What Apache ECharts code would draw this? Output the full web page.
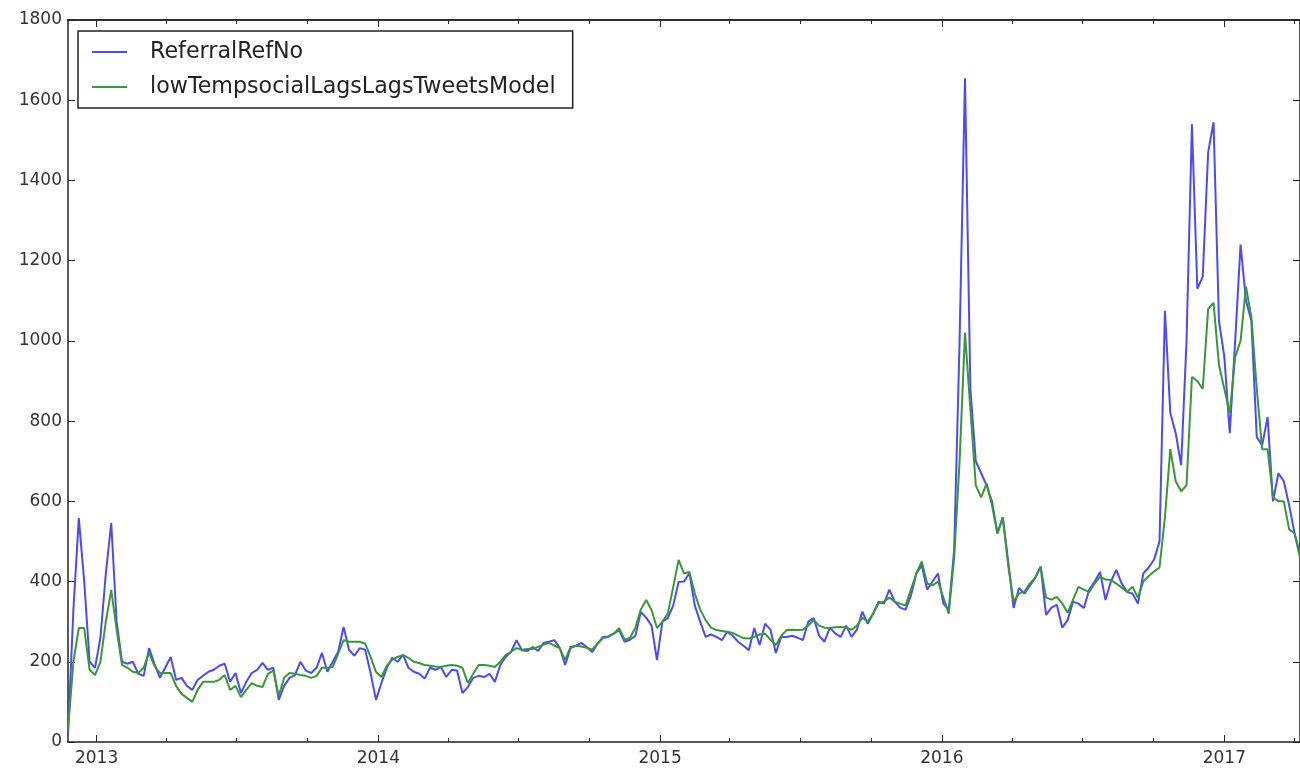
<!DOCTYPE html>
<html>
<head>
<meta charset="utf-8">
<script src="https://cdn.jsdelivr.net/npm/echarts@6/dist/echarts.min.js"></script>
<style>
html, body { margin: 0; padding: 0; background: #fff; }
#show { width: 1300px; height: 769px; }
</style>
</head>
<body>
<div id="show"></div>
<script>
var myChart = echarts.init(document.getElementById("show"));

// weekly series, first week 2012-11-25
var startDate = Date.UTC(2012, 10, 25);
var weekMs = 7 * 24 * 3600 * 1000;

var seriesNames = ['ReferralRefNo', 'lowTempsocialLagsLagsTweetsModel'];

var referral = [
    22, 330, 558, 400, 200, 185, 260, 420, 546, 300,
    200, 195, 200, 170, 165, 234, 195, 160, 185, 212,
    155, 160, 140, 130, 155, 165, 175, 180, 190, 195,
    150, 172, 122, 150, 172, 180, 197, 180, 185, 105,
    140, 160, 167, 200, 178, 172, 185, 222, 175, 200,
    225, 287, 230, 215, 234, 230, 172, 105, 147, 185,
    210, 200, 217, 185, 175, 170, 158, 185, 180, 187,
    162, 180, 178, 122, 137, 160, 165, 162, 170, 150,
    192, 212, 225, 254, 229, 227, 237, 227, 247, 250,
    254, 235, 192, 234, 240, 247, 237, 224, 245, 262,
    263, 270, 279, 250, 255, 265, 324, 310, 290, 204,
    300, 309, 340, 399, 400, 421, 340, 300, 262, 268,
    262, 254, 275, 265, 250, 240, 229, 284, 242, 295,
    280, 222, 262, 262, 265, 260, 254, 300, 309, 265,
    250, 285, 270, 262, 290, 262, 280, 325, 295, 320,
    350, 345, 380, 350, 335, 330, 365, 420, 440, 380,
    400, 420, 345, 330, 480, 1000, 1655, 880, 700, 670,
    640, 600, 520, 560, 450, 334, 384, 370, 390, 409,
    437, 317, 335, 342, 285, 304, 350, 345, 334, 380,
    400, 424, 354, 400, 429, 395, 374, 370, 345, 420,
    435, 455, 500, 1075, 820, 770, 690, 1000, 1540, 1130,
    1160, 1470, 1545, 1050, 960, 770, 1000, 1240, 1100, 1050,
    760, 740, 810, 600, 670, 650, 590, 520, 470
];

var model = [
    30, 200, 284, 284, 180, 167, 200, 300, 379, 280,
    192, 185, 175, 172, 185, 222, 190, 172, 172, 172,
    140, 120, 110, 100, 130, 150, 150, 150, 155, 167,
    130, 140, 112, 130, 147, 140, 137, 170, 178, 115,
    160, 172, 170, 167, 165, 160, 165, 185, 185, 187,
    220, 254, 250, 250, 250, 245, 212, 175, 162, 190,
    205, 212, 217, 210, 200, 197, 192, 190, 188, 187,
    190, 192, 190, 185, 147, 170, 192, 192, 190, 187,
    200, 217, 225, 234, 230, 232, 232, 237, 242, 247,
    240, 234, 204, 237, 240, 238, 235, 230, 245, 259,
    262, 270, 284, 255, 260, 285, 330, 354, 329, 284,
    300, 320, 386, 454, 420, 424, 370, 330, 304, 285,
    279, 277, 275, 272, 265, 259, 258, 262, 268, 270,
    255, 242, 265, 279, 280, 279, 280, 290, 304, 290,
    285, 284, 286, 287, 285, 280, 290, 310, 300, 320,
    345, 350, 360, 350, 345, 340, 380, 420, 450, 395,
    390, 400, 360, 320, 460, 700, 1020, 830, 640, 610,
    645, 590, 520, 560, 440, 350, 370, 375, 395, 410,
    437, 360, 355, 362, 345, 322, 355, 387, 380, 374,
    395, 412, 405, 404, 395, 385, 374, 387, 360, 400,
    414, 425, 435, 560, 730, 650, 625, 640, 910, 900,
    880, 1080, 1095, 940, 880, 820, 960, 1000, 1135, 1060,
    880, 730, 730, 610, 600, 600, 530, 520, 460
];

var yearLabels = [2013, 2014, 2015, 2016, 2017];

function toPairs(vals) {
    return vals.map(function (v, i) { return [startDate + i * weekMs, v]; });
}

var endDate = startDate + (referral.length - 1) * weekMs;
var yearStamps = yearLabels.map(function (y) { return Date.UTC(y, 0, 1); });
var quarterStamps = [];
for (var y = 2013; y <= 2017; y++) {
    for (var m = 0; m < 12; m += 3) {
        var t = Date.UTC(y, m, 1);
        if (t <= endDate) quarterStamps.push(t);
    }
}

var font = 'DejaVu Sans';
var axisColor = '#222';

function xAxisDef(position, ticks, len, withLabels) {
    return {
        type: 'value',
        position: position,
        min: startDate,
        max: endDate,
        axisLine: { show: withLabels || position === 'top', lineStyle: { color: axisColor, width: 1.5 } },
        axisTick: { inside: true, length: len, customValues: ticks, lineStyle: { color: axisColor, width: 1 } },
        axisLabel: {
            show: withLabels,
            customValues: yearStamps,
            formatter: function (v) { return String(new Date(v).getUTCFullYear()); },
            fontSize: 17,
            fontFamily: font,
            color: '#333',
            margin: 8
        },
        splitLine: { show: false }
    };
}

function yAxisDef(position, withLabels) {
    return {
        type: 'value',
        position: position,
        min: 0,
        max: 1800,
        interval: 200,
        axisLine: { show: true, lineStyle: { color: axisColor, width: 1.5 } },
        axisTick: { inside: true, length: 7, lineStyle: { color: axisColor, width: 1 } },
        axisLabel: {
            show: withLabels,
            formatter: function (v) { return String(v); },
            fontSize: 17,
            fontFamily: font,
            color: '#333',
            margin: 6
        },
        splitLine: { show: false }
    };
}

myChart.setOption(option = {
    animation: false,
    backgroundColor: '#fff',
    grid: { left: 68, right: -1, top: 20, bottom: 27 },
    legend: {
        orient: 'vertical',
        left: 78,
        top: 31,
        padding: [9, 17, 9, 14],
        icon: 'rect',
        itemWidth: 35,
        itemHeight: 2,
        itemGap: 11,
        borderColor: '#222',
        borderWidth: 1.5,
        backgroundColor: '#fff',
        data: seriesNames,
        textStyle: { fontSize: 22.2, color: '#222', fontFamily: font, lineHeight: 24, padding: [0, 0, 0, 18] }
    },
    xAxis: [
        xAxisDef('bottom', yearStamps, 7, true),
        xAxisDef('bottom', quarterStamps, 4, false),
        xAxisDef('top', yearStamps, 7, false),
        xAxisDef('top', quarterStamps, 4, false)
    ],
    yAxis: [
        yAxisDef('left', true),
        yAxisDef('right', false)
    ],
    series: [
        {
            name: seriesNames[0],
            type: 'line',
            symbol: 'none',
            data: toPairs(referral),
            itemStyle: { color: '#4b4bf5' },
            lineStyle: { color: '#4b4bf5', width: 2 }
        },
        {
            name: seriesNames[1],
            type: 'line',
            symbol: 'none',
            data: toPairs(model),
            itemStyle: { color: '#3a963a' },
            lineStyle: { color: '#3a963a', width: 2 }
        }
    ]
});
</script>
</body>
</html>
